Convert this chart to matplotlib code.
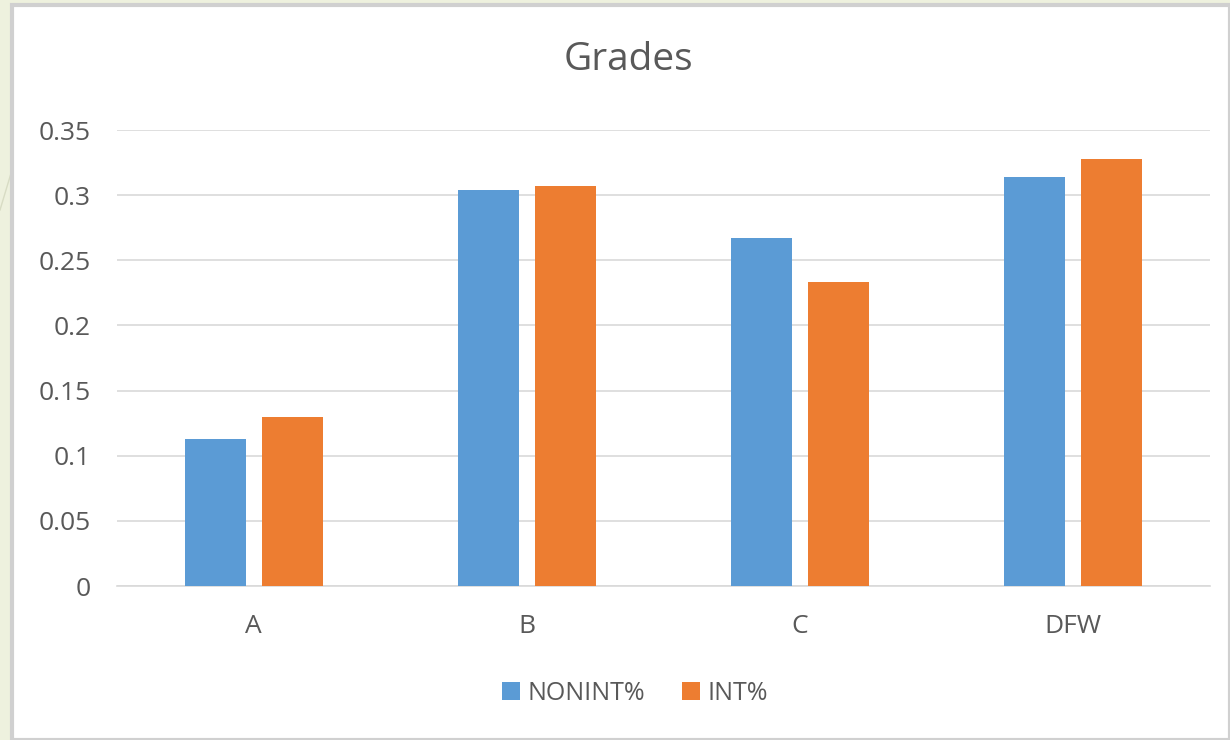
import matplotlib.pyplot as plt
import numpy as np
from matplotlib.patches import Rectangle
from matplotlib.lines import Line2D

categories = ["A", "B", "C", "DFW"]
nonint = [0.113, 0.304, 0.267, 0.314]
int_pct = [0.130, 0.307, 0.233, 0.328]
yticks = [0, 0.05, 0.1, 0.15, 0.2, 0.25, 0.3, 0.35]
ytick_labels = ["0", "0.05", "0.1", "0.15", "0.2", "0.25", "0.3", "0.35"]

plt.rcParams['font.family'] = ['Open Sans', 'DejaVu Sans']
text_color = '#595959'

fig = plt.figure(figsize=(12.3, 7.4), dpi=100, facecolor='#EEF1DE')
# white chart area with gray border (behind the axes)
fig.patches.append(Rectangle((12 / 1230, 0), 1 - 12 / 1230, 1 - 5 / 740,
                             transform=fig.transFigure, facecolor='white',
                             edgecolor='#D0D0D0', linewidth=3, zorder=-10))
fig.lines.append(Line2D([0, 12 / 1230], [1 - 210 / 740, 1 - 170 / 740],
                        transform=fig.transFigure, color='#D8DCC4', lw=1, zorder=-10))

ax = fig.add_axes([117 / 1230, 1 - 586 / 740, (1210 - 117) / 1230, (586 - 130) / 740])
ax.set_facecolor('none')

x = np.arange(len(categories))
w = 0.223
off = 0.141
ax.bar(x - off, nonint, w, color='#5B9BD5', label='NONINT%', zorder=3)
ax.bar(x + off, int_pct, w, color='#ED7D31', label='INT%', zorder=3)

ax.set_xlim(-0.5, len(categories) - 0.5)
ax.set_ylim(0, 0.35)
ax.set_yticks(yticks)
ax.set_yticklabels(ytick_labels)
ax.set_xticks(x)
ax.set_xticklabels(categories)
ax.tick_params(axis='both', length=0, labelsize=19, colors=text_color)
ax.tick_params(axis='y', pad=19)
ax.tick_params(axis='x', pad=20)
ax.grid(axis='y', color='#D9D9D9', linewidth=1.2, zorder=0)
for s in ['top', 'right', 'left']:
    ax.spines[s].set_visible(False)
ax.spines['bottom'].set_color('#D9D9D9')
ax.spines['bottom'].set_linewidth(1.2)

fig.text(628 / 1230, 1 - 60 / 740, "Grades", ha='center', va='center',
         fontsize=28, color=text_color)

fig.legend(loc='center', bbox_to_anchor=(635 / 1230, 1 - 693 / 740), ncol=2,
           frameon=False, fontsize=18, labelcolor=text_color,
           handlelength=0.7, handleheight=0.7, handletextpad=0.3, columnspacing=1.5)

fig.savefig('out.png', dpi=100, facecolor=fig.get_facecolor())
